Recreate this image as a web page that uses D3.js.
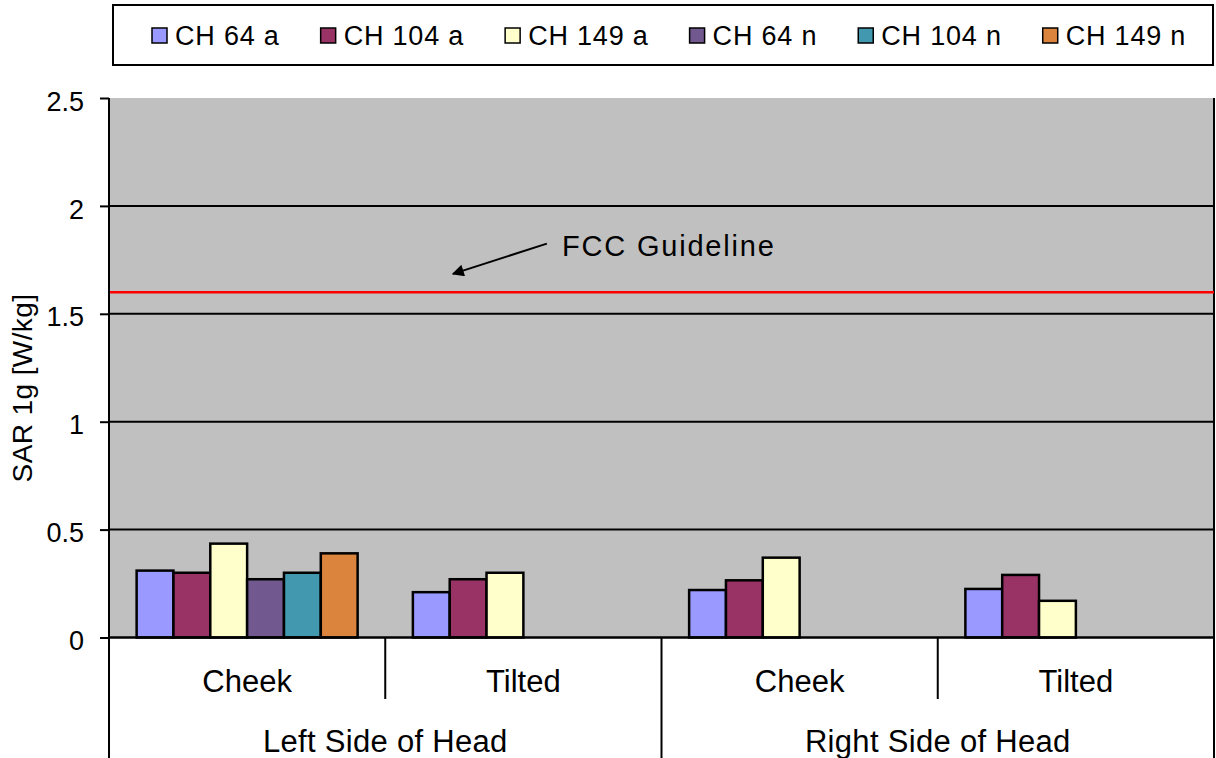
<!DOCTYPE html>
<html>
<head>
<meta charset="utf-8">
<script src="https://cdn.jsdelivr.net/npm/d3@7"></script>
<style>
  body { margin: 0; background: #fff; }
  svg { display: block; font-family: Arial, "Liberation Sans", sans-serif; }
</style>
</head>
<body>
<div id="chart"></div>
<script>
// categories (inner level) and their outer grouping
const categories = ['Cheek', 'Tilted', 'Cheek', 'Tilted'];
const sides = ['Left Side of Head', 'Right Side of Head'];

// series names and colours
const seriesNames = ['CH 64 a', 'CH 104 a', 'CH 149 a', 'CH 64 n', 'CH 104 n', 'CH 149 n'];
const seriesColors = ['#9999FF', '#993366', '#FFFFCC', '#71588F', '#4198AF', '#DB843D'];

// SAR values per series, one per category (null = not measured)
const ch64a  = [0.31, 0.21, 0.22, 0.225];
const ch104a = [0.30, 0.27, 0.265, 0.29];
const ch149a = [0.435, 0.30, 0.37, 0.17];
const ch64n  = [0.27, null, null, null];
const ch104n = [0.30, null, null, null];
const ch149n = [0.39, null, null, null];
const seriesValues = [ch64a, ch104a, ch149a, ch64n, ch104n, ch149n];

const yTicks = [0, 0.5, 1, 1.5, 2, 2.5];
const fccLimit = 1.6;
const fccLabel = 'FCC Guideline';

const width = 1216, height = 758;
const plotLeft = 109, plotRight = 1214, plotTop = 98, zeroY = 637.5;

const svg = d3.select('#chart').append('svg')
    .attr('width', width)
    .attr('height', height);

// scales
const x = d3.scaleBand().domain(d3.range(categories.length)).range([plotLeft, plotRight]);
const xs = d3.scaleBand().domain(seriesNames).range([0, x.bandwidth()])
    .paddingInner(0).paddingOuter(0.75);
const y = d3.scaleLinear().domain([0, 2.5]).range([zeroY, plotTop]);

// plot background
svg.append('rect')
    .attr('x', plotLeft).attr('y', plotTop)
    .attr('width', plotRight - plotLeft).attr('height', zeroY - plotTop)
    .attr('fill', '#C0C0C0');

// gridlines
svg.append('g').selectAll('line')
    .data(yTicks.filter(t => t > 0 && t < 2.5))
    .join('line')
    .attr('x1', plotLeft).attr('x2', plotRight)
    .attr('y1', d => y(d)).attr('y2', d => y(d))
    .attr('stroke', '#000').attr('stroke-width', 2);

// right border of plot
svg.append('line')
    .attr('x1', plotRight).attr('x2', plotRight)
    .attr('y1', plotTop).attr('y2', height)
    .attr('stroke', '#000').attr('stroke-width', 2);

// FCC line
svg.append('line')
    .attr('x1', plotLeft).attr('x2', plotRight)
    .attr('y1', y(fccLimit)).attr('y2', y(fccLimit))
    .attr('stroke', '#FF0000').attr('stroke-width', 2.5);

// bars
const barData = [];
seriesNames.forEach((s, si) => {
    seriesValues[si].forEach((v, ci) => {
        if (v != null) barData.push({ series: s, color: seriesColors[si], cat: ci, value: v });
    });
});

svg.append('g').selectAll('rect')
    .data(barData)
    .join('rect')
    .attr('x', d => x(d.cat) + xs(d.series))
    .attr('y', d => y(d.value))
    .attr('width', xs.bandwidth())
    .attr('height', d => y(0) - y(d.value))
    .attr('fill', d => d.color)
    .attr('stroke', '#000')
    .attr('stroke-width', 2.5);

// y axis
const yAxis = svg.append('g')
    .attr('transform', `translate(${plotLeft},0)`)
    .call(d3.axisLeft(y).tickValues(yTicks).tickSize(9).tickPadding(16)
        .tickFormat(d => d3.format('')(d)));
yAxis.select('.domain').remove();
yAxis.selectAll('.tick line').attr('stroke', '#000').attr('stroke-width', 2);
yAxis.selectAll('.tick text')
    .attr('font-size', 27).attr('fill', '#000')
    .attr('font-family', 'Arial, "Liberation Sans", sans-serif')
    .attr('dy', '0.45em');

svg.append('line')
    .attr('x1', plotLeft).attr('x2', plotLeft)
    .attr('y1', plotTop).attr('y2', height)
    .attr('stroke', '#000').attr('stroke-width', 2);

// x axis baseline
svg.append('line')
    .attr('x1', plotLeft).attr('x2', plotRight)
    .attr('y1', zeroY).attr('y2', zeroY)
    .attr('stroke', '#000').attr('stroke-width', 2.5);

// category separators (inner level)
svg.append('g').selectAll('line')
    .data(d3.range(1, categories.length))
    .join('line')
    .attr('x1', d => x(d)).attr('x2', d => x(d))
    .attr('y1', zeroY).attr('y2', d => d % 2 === 0 ? height : 699)
    .attr('stroke', '#000').attr('stroke-width', 2);

svg.append('g').selectAll('text')
    .data(categories)
    .join('text')
    .attr('x', (d, i) => x(i) + x.bandwidth() / 2)
    .attr('y', 692)
    .attr('text-anchor', 'middle')
    .attr('font-size', 31)
    .text(d => d);

svg.append('g').selectAll('text')
    .data(sides)
    .join('text')
    .attr('x', (d, i) => x(i * 2) + x.bandwidth())
    .attr('y', 752)
    .attr('text-anchor', 'middle')
    .attr('font-size', 31)
    .attr('letter-spacing', 0.3)
    .text(d => d);

// y axis title
svg.append('text')
    .attr('transform', 'translate(32,388) rotate(-90)')
    .attr('text-anchor', 'middle')
    .attr('font-size', 28)
    .attr('letter-spacing', 0.4)
    .text('SAR 1g [W/kg]');

// annotation
const annText = { cat: 1, frac: 0.64, value: 1.77 };
const annTail = { cat: 1, frac: 0.585, value: 1.825 };
const annTip = { cat: 1, frac: 0.245, value: 1.685 };
const ax = d => x(d.cat) + d.frac * x.bandwidth();

svg.append('defs').append('marker')
    .attr('id', 'arrow')
    .attr('viewBox', '0 0 10 10')
    .attr('refX', 9).attr('refY', 5)
    .attr('markerWidth', 17).attr('markerHeight', 12)
    .attr('markerUnits', 'userSpaceOnUse')
    .attr('orient', 'auto')
    .append('path')
    .attr('d', 'M0,0 L10,5 L0,10 z')
    .attr('fill', '#000');

svg.append('line')
    .attr('x1', ax(annTail)).attr('y1', y(annTail.value))
    .attr('x2', ax(annTip)).attr('y2', y(annTip.value))
    .attr('stroke', '#000').attr('stroke-width', 2)
    .attr('marker-end', 'url(#arrow)');

svg.append('text')
    .attr('x', ax(annText)).attr('y', y(annText.value))
    .attr('font-size', 29)
    .attr('letter-spacing', 1.8)
    .text(fccLabel);

// legend
const legend = svg.append('g');
legend.append('rect')
    .attr('x', 113).attr('y', 5)
    .attr('width', 1100).attr('height', 60)
    .attr('fill', '#fff').attr('stroke', '#000').attr('stroke-width', 2);

let lx = 152;
seriesNames.forEach((s, i) => {
    const g = legend.append('g').attr('transform', `translate(${lx},0)`);
    g.append('rect')
        .attr('x', 0).attr('y', 28)
        .attr('width', 15).attr('height', 15)
        .attr('fill', seriesColors[i])
        .attr('stroke', '#000').attr('stroke-width', 1.5);
    const t = g.append('text')
        .attr('x', 23).attr('y', 45)
        .attr('font-size', 27)
        .attr('letter-spacing', 0.8)
        .text(s);
    lx += 23 + t.node().getComputedTextLength() + 41;
});
</script>
</body>
</html>
